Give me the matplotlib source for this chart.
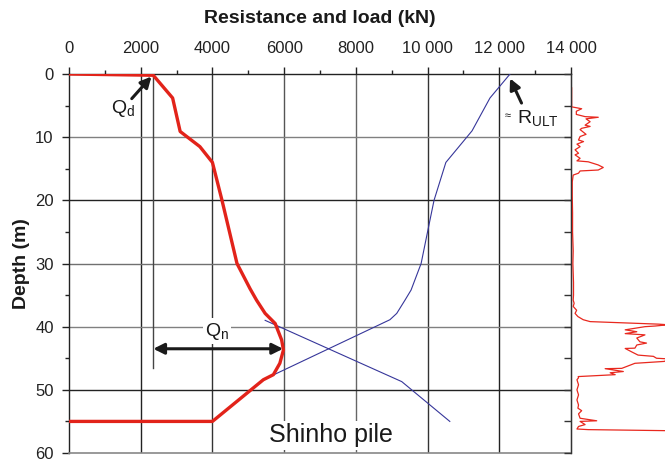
import matplotlib
matplotlib.use('Agg')
import matplotlib.pyplot as plt
from matplotlib.ticker import MultipleLocator, FuncFormatter

plt.rcParams['font.family'] = ['Liberation Sans', 'DejaVu Sans']
plt.rcParams['mathtext.fontset'] = 'custom'
plt.rcParams['mathtext.rm'] = 'Liberation Sans'
plt.rcParams['mathtext.it'] = 'Liberation Sans:italic'

# ---------------- data ----------------
# load distribution in pile (red, thick)
load_kN = [0, 2350, 2890, 3100, 3650, 4000, 4267, 4685, 5050, 5230, 5470,
           5750, 5930, 5980, 5880, 5700, 5420, 4000, 0]
load_depth = [0, 0.2, 3.8, 9.1, 11.5, 14.0, 20, 30, 34, 35.8, 37.9,
              39.5, 42.1, 43.7, 45.8, 47.6, 48.4, 55, 55]

# resistance curves (blue, thin)
res_upper_kN = [12300, 11740, 11240, 10510, 10180, 10010, 9820, 9540, 9370,
                9140, 8950, 5420]
res_upper_depth = [0, 3.8, 9.0, 14, 20, 24.7, 30, 34.2, 35.8, 37.9, 38.9, 48.4]
res_lower_kN = [5470, 9280, 10620]
res_lower_depth = [39.0, 48.7, 55.0]

qd_kN = 2350
qd_line_bottom = 46.6
qn_depth = 43.5
qn_right_kN = 5970

# CPT profile on the right side
cpt_depth = [2.2, 5.2, 5.3, 5.5, 5.9, 6.4, 6.75, 6.85, 7.1, 7.55, 8.1, 8.3,
             8.6, 8.8, 9.55, 9.9, 10.45, 10.7, 11.1, 11.5, 12.0, 12.55, 12.8,
             13.35, 13.75, 13.9, 14.4, 14.8, 15.2, 15.35, 15.7, 16.0, 17.1,
             19.2, 22, 25, 28, 30, 33, 35, 35.8, 36.3, 36.8, 37.4, 37.9, 38.4,
             38.9, 39.2, 39.6, 39.7, 39.9, 40.0, 40.5, 40.8, 41.1, 41.3, 41.8,
             42.4, 42.6, 42.9, 43.4, 43.45, 44.0, 44.5, 44.7, 45.0, 45.1, 45.5,
             45.8, 46.6, 46.65, 47.1, 47.3, 47.6, 47.9, 48.1, 48.4, 49.2, 50.0,
             50.8, 51.6, 52.4, 52.9, 53.3, 53.8, 54.5, 54.9, 55.0, 55.5, 55.8,
             56.2, 56.3, 56.5]
cpt_qc = [0.2, 0.2, 1.3, 3.4, 1.7, 1.7, 4.5, 8.7, 4.8, 6.1, 4.5, 6.1,
          3.4, 2.9, 4.8, 2.9, 2.4, 4.0, 1.9, 2.9, 1.3, 2.4, 1.3,
          2.9, 1.9, 5.5, 8.7, 10.3, 8.7, 2.9, 2.4, 0.7, 0.4,
          0.4, 0.5, 0.5, 0.7, 0.6, 0.8, 0.8, 0.7, 1.0, 0.7, 1.8, 1.3, 2.2,
          3.9, 6.1, 27.9, 31, 26.8, 23.6, 17.3, 21.0, 17.3, 23.6, 21.0,
          22.0, 24.1, 21.0, 20.4, 17.3, 19.4, 21.4, 26.3, 27.3, 31, 29.8,
          20.4, 16.2, 10.9, 16.7, 12.5, 14.1, 2.3, 2.4, 1.9, 2.4, 1.9,
          2.4, 1.9, 2.4, 2.2, 3.4, 2.4, 2.9, 8.2, 2.9, 4.5, 2.4,
          1.9, 5.5, 36]

x_ticks = [0, 2000, 4000, 6000, 8000, 10000, 12000, 14000]
y_ticks = [0, 10, 20, 30, 40, 50, 60]

# ---------------- figure ----------------
fig = plt.figure(figsize=(6.65, 4.63), dpi=100)
ax = fig.add_axes([69 / 665, 10 / 463, 502 / 665, 379 / 463])
ax.set_xlim(0, 14000)
ax.set_ylim(60, 0)

ax.xaxis.tick_top()
ax.xaxis.set_label_position('top')
ax.set_xticks(x_ticks)
ax.xaxis.set_minor_locator(MultipleLocator(1000))
ax.set_yticks(y_ticks)
ax.yaxis.set_minor_locator(MultipleLocator(5))


def fmt(v, p):
    v = int(round(v))
    return f'{v:,}'.replace(',', ' ') if v >= 10000 else f'{v}'


ax.xaxis.set_major_formatter(FuncFormatter(fmt))
ax.tick_params(which='major', direction='out', length=5, width=1,
               labelsize=12, color='#222222', labelcolor='#222222')
ax.tick_params(which='minor', direction='out', length=3, width=1,
               color='#222222')
ax.tick_params(axis='x', pad=8)
ax.tick_params(axis='y', pad=6)

ax.set_xlabel('Resistance and load (kN)', fontsize=14, fontweight='bold',
              labelpad=13, color='#1a1a1a')
ax.set_ylabel('Depth (m)', fontsize=14, fontweight='bold', labelpad=4,
              color='#1a1a1a')

for s in ['top', 'left', 'right']:
    ax.spines[s].set_color('#222222')
    ax.spines[s].set_linewidth(1)
ax.spines['bottom'].set_color('#888888')
ax.spines['bottom'].set_linewidth(1.2)

# grid lines
vcol = {2000: '#222222', 4000: '#333333', 6000: '#555555', 8000: '#666666',
        10000: '#333333', 12000: '#222222'}
hcol = {10: '#808080', 20: '#222222', 30: '#707070', 40: '#808080',
        50: '#222222'}
for v in x_ticks[1:-1]:
    ax.axvline(v, color=vcol[v], lw=1, zorder=1)
for d in y_ticks[1:-1]:
    ax.axhline(d, color=hcol[d], lw=1, zorder=1)

# reference line at Qd
ax.plot([qd_kN, qd_kN], [0, qd_line_bottom], color='#444444', lw=1, zorder=2)

# curves
ax.plot(res_upper_kN, res_upper_depth, color='#36369a', lw=0.8, zorder=4)
ax.plot(res_lower_kN, res_lower_depth, color='#36369a', lw=0.8, zorder=4)
ax.plot(load_kN, load_depth, color='#e2231a', lw=2.4, zorder=5,
        solid_joinstyle='round', solid_capstyle='butt')

arrow_kw = dict(color='#1a1a1a', lw=2.2, mutation_scale=16,
                shrinkA=0, shrinkB=0)

# Qd
ax.annotate('', xy=(2300, 0.4), xytext=(1750, 3.9),
            arrowprops=dict(arrowstyle='-|>', **arrow_kw), zorder=6)
ax.text(1500, 5.4, r'Q$_\mathrm{d}$', fontsize=14, ha='center', va='center',
        color='#1a1a1a', zorder=6)

# Qn
ax.annotate('', xy=(qn_right_kN, qn_depth), xytext=(qd_kN, qn_depth),
            arrowprops=dict(arrowstyle='<|-|>', **arrow_kw), zorder=6)
ax.text(4127, 40.7, r'Q$_\mathrm{n}$', fontsize=14, ha='center', va='center',
        color='#1a1a1a', zorder=3,
        bbox=dict(fc='white', ec='none', pad=1.5))

# R_ULT
ax.annotate('', xy=(12300, 0.7), xytext=(12620, 4.6),
            arrowprops=dict(arrowstyle='-|>', **arrow_kw), zorder=6)
ax.text(12228, 6.6, '≈', fontsize=8, ha='center', va='center',
        color='#1a1a1a', zorder=6)
ax.text(12484, 7.0, r'R$_\mathrm{ULT}$', fontsize=14, ha='left', va='center',
        color='#1a1a1a', zorder=6)

# Shinho pile
ax.text(7306, 57.2, 'Shinho pile', fontsize=18, ha='center', va='center',
        color='#1a1a1a', zorder=3, bbox=dict(fc='white', ec='none', pad=2))

# ---------------- CPT panel ----------------
ax2 = fig.add_axes([571 / 665, 10 / 463, 94 / 665, 379 / 463])
ax2.patch.set_alpha(0)
ax2.set_xlim(0, 30)
ax2.set_ylim(60, 0)
for s in ['top', 'right', 'bottom']:
    ax2.spines[s].set_visible(False)
ax2.spines['left'].set_color('#333333')
ax2.set_xticks([])
ax2.yaxis.set_major_locator(MultipleLocator(5))
ax2.tick_params(axis='y', direction='out', length=5, width=1,
                labelleft=False, color='#333333')
ax2.plot(cpt_qc, cpt_depth, color='#e8281e', lw=0.9)

fig.savefig('out.png', dpi=100)
